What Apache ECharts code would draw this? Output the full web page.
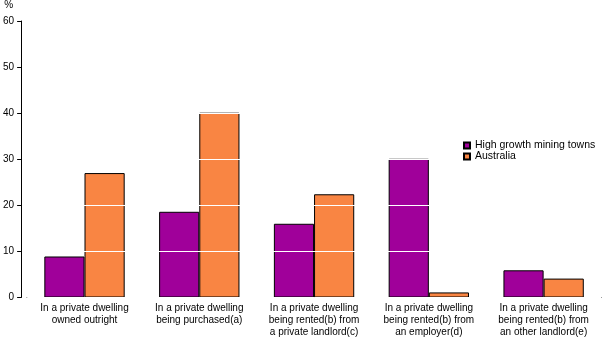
<!DOCTYPE html>
<html>
<head>
<meta charset="utf-8">
<script src="https://cdn.jsdelivr.net/npm/echarts@6/dist/echarts.min.js"></script>
<style>
  html, body { margin: 0; padding: 0; background: #fff; }
  #chart { width: 605px; height: 340px; }
</style>
</head>
<body>
<div id="chart"></div>
<script>
// Tenure type categories (multi-line axis labels)
const categories = [
  'In a private dwelling\nowned outright',
  'In a private dwelling\nbeing purchased(a)',
  'In a private dwelling\nbeing rented(b) from\na private landlord(c)',
  'In a private dwelling\nbeing rented(b) from\nan employer(d)',
  'In a private dwelling\nbeing rented(b) from\nan other landlord(e)'
];

// Percentage of dwellings by tenure
const miningTowns = [8.9, 18.6, 16.0, 30.1, 5.9];
const australia = [27.0, 40.1, 22.4, 1.1, 4.1];

const seriesNames = ['High growth mining towns', 'Australia'];
const yTicks = { min: 0, max: 60, interval: 10 };

const FONT = 'Liberation Sans';
const chart = echarts.init(document.getElementById('chart'));

chart.setOption({
  animation: false,
  textStyle: { fontFamily: FONT },
  grid: { left: 26, right: 4, top: 19, bottom: 42.5 },
  legend: {
    orient: 'vertical',
    left: 458,
    top: 135,
    z: 10,
    itemWidth: 6,
    itemHeight: 6,
    itemGap: 0,
    icon: 'rect',
    textStyle: { fontFamily: FONT, fontSize: 10.5, lineHeight: 9.5, color: '#000' },
    data: seriesNames
  },
  xAxis: {
    type: 'category',
    data: categories,
    axisLine: { lineStyle: { color: '#000', width: 1 } },
    axisTick: { alignWithLabel: true, length: 4, lineStyle: { color: '#000' } },
    axisLabel: {
      interval: 0,
      margin: 5,
      fontSize: 10,
      lineHeight: 12,
      color: '#000',
      fontFamily: FONT
    }
  },
  yAxis: {
    type: 'value',
    min: yTicks.min,
    max: yTicks.max,
    interval: yTicks.interval,
    offset: 6,
    z: 5,
    name: '%',
    nameLocation: 'end',
    nameGap: 11,
    nameTextStyle: { fontSize: 10, color: '#000', fontFamily: FONT, align: 'right', padding: [0, 8, 0, 0] },
    axisLine: { show: true, lineStyle: { color: '#000', width: 1 } },
    axisTick: { show: true, length: 4, lineStyle: { color: '#000' } },
    axisLabel: { fontSize: 10, color: '#000', margin: 7, fontFamily: FONT },
    splitLine: { show: true, lineStyle: { color: '#fff', width: 1 } }
  },
  series: [
    {
      name: seriesNames[0],
      type: 'bar',
      data: miningTowns,
      barGap: '0%',
      barCategoryGap: '30%',
      itemStyle: { color: '#A0009A', borderColor: '#000', borderWidth: 1 }
    },
    {
      name: seriesNames[1],
      type: 'bar',
      data: australia,
      itemStyle: { color: '#F98543', borderColor: '#000', borderWidth: 1 }
    }
  ]
});
</script>
</body>
</html>
